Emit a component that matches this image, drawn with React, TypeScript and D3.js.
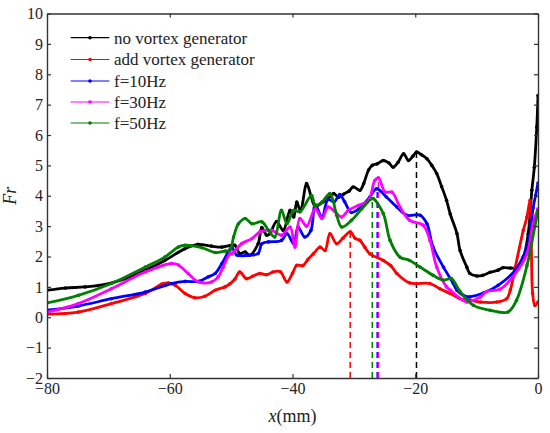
import React, { useRef, useEffect } from "react";
import * as d3 from "d3";

// Fr along x (mm)
const blackX = [-80, -77, -73.8, -70.5, -67.3, -64, -60.8, -57.5, -55.4, -53.2, -51.5, -50.2, -49.4, -48.6, -47.7, -47, -45.6, -45, -44.2, -43.7, -42.6, -41.5, -40.4, -39.8, -39.3, -38.7, -37.7, -37, -36.3, -35, -34.2, -33.3, -32.5, -31.7, -30.8, -30.1, -29, -28.4, -27.6, -27, -26.2, -25.2, -24.3, -23.6, -22.8, -21.9, -21.1, -20.4, -19.8, -19, -18.1, -17.3, -16.5, -15.7, -14.9, -14.3, -13.2, -12.7, -11.6, -11.1, -10, -9, -7.8, -6.5, -5.7, -4.5, -3.7, -2.4, -1.6, -1, -0.6, -0.2, 0];
const blackY = [0.89, 0.96, 1.0, 1.08, 1.27, 1.55, 1.87, 2.26, 2.4, 2.34, 2.31, 2.36, 2.37, 2.1, 2.15, 2.04, 2.42, 2.95, 2.7, 2.75, 3.15, 2.86, 3.52, 3.3, 3.79, 3.5, 4.4, 4.0, 3.65, 3.8, 3.9, 4.07, 3.95, 4.05, 4.15, 4.29, 4.18, 4.4, 4.85, 5.0, 5.05, 5.16, 5.08, 4.94, 5.1, 5.38, 5.16, 5.3, 5.44, 5.35, 5.22, 5.0, 4.73, 4.3, 3.85, 3.4, 2.75, 2.2, 1.65, 1.44, 1.36, 1.38, 1.48, 1.55, 1.63, 1.62, 1.62, 1.98, 2.75, 4.18, 4.94, 6.26, 7.3];

const redX = [-80, -74.9, -69.5, -64, -61.3, -60.2, -59.1, -57.5, -55.9, -54.3, -52.6, -51, -50.2, -49.4, -48.6, -47.5, -46.5, -45.3, -44.2, -43.2, -42, -40.9, -40, -39.3, -38.3, -37.5, -36.6, -35.5, -34.7, -33.9, -32.8, -31.8, -30.6, -29.8, -29, -28.2, -27.4, -25.2, -24, -23, -20.9, -17.6, -16, -14.3, -12.7, -11.1, -9.4, -6.7, -5.1, -4.5, -3.7, -2.4, -1.8, -1.3, -1.1, -0.87, -0.5, 0];
const redY = [0.1, 0.17, 0.45, 0.78, 1.09, 1.13, 1.05, 0.78, 0.64, 0.69, 0.89, 1.0, 1.1, 1.25, 1.49, 1.27, 1.35, 1.44, 1.4, 1.49, 1.5, 1.16, 1.45, 1.71, 1.7, 1.9, 2.09, 2.31, 2.2, 2.75, 2.42, 2.6, 2.81, 2.6, 2.53, 2.3, 2.09, 1.87, 1.7, 1.44, 1.13, 1.11, 0.94, 0.78, 0.61, 0.56, 0.5, 0.5, 0.61, 0.9, 1.65, 2.86, 3.3, 3.85, 2.5, 0.78, 0.39, 0.5];

const blueX = [-80, -74.9, -69.5, -64, -59.7, -57.5, -55.3, -53.7, -52.6, -51.5, -50.6, -49.9, -49.1, -47.2, -45.6, -45, -43.9, -41.8, -40.9, -39.8, -39.1, -38, -37, -36.3, -35.2, -34.2, -33.2, -32.3, -31.5, -30.4, -29, -27.4, -26.3, -24.7, -23, -21.4, -19.2, -18.1, -17.1, -15.4, -13.8, -13.2, -11.6, -11.1, -8.9, -6.5, -3.5, -1.8, -1.3, -0.8, -0.4, 0];
const blueY = [0.23, 0.37, 0.61, 0.83, 1.11, 1.18, 1.18, 1.33, 1.44, 1.77, 2.1, 2.3, 2.05, 2.04, 2.1, 2.42, 2.48, 2.53, 2.75, 2.42, 2.97, 2.64, 2.86, 3.7, 3.3, 3.88, 3.8, 4.04, 3.8, 3.45, 3.6, 3.96, 4.23, 3.96, 3.63, 3.36, 3.36, 3.08, 2.31, 1.65, 1.11, 0.89, 0.67, 0.67, 0.8, 1.05, 1.6, 2.3, 2.7, 3.6, 4.0, 4.42];

const magentaX = [-80, -74.9, -69.5, -64, -59.7, -58.6, -57, -55.3, -53.2, -52.1, -51.3, -50.2, -49.9, -48.3, -46.6, -45.3, -43.4, -41.8, -40.4, -39.6, -38.8, -37.7, -36.3, -35.2, -34.2, -33.2, -32, -30.9, -29.3, -27.6, -26.6, -26, -24.9, -23.8, -22.5, -20.9, -18.7, -17.6, -16.5, -14.9, -14.3, -12.2, -11.6, -9.4, -8.4, -6.2, -4, -1.8, -0.8, 0];
const magentaY = [0.17, 0.45, 0.94, 1.49, 1.77, 1.72, 1.44, 1.16, 1.16, 1.33, 1.65, 2.09, 2.09, 2.42, 2.59, 2.81, 2.86, 2.7, 2.97, 2.31, 3.25, 3.0, 3.57, 3.25, 3.63, 3.5, 3.3, 3.52, 3.68, 3.85, 4.5, 4.59, 4.12, 4.12, 3.63, 3.19, 3.03, 2.53, 1.65, 1.0, 0.89, 0.56, 0.5, 0.67, 0.85, 0.92, 1.35, 2.09, 3.08, 3.57];

const greenX = [-80, -74.9, -69.5, -64, -60.8, -58.6, -57.5, -54.8, -52.6, -51, -50.2, -49.6, -48.8, -47.7, -46.6, -45, -43.9, -42.9, -41.8, -40.9, -39.8, -38.8, -36.9, -36.3, -35.2, -33.9, -32.8, -32, -30.4, -28.7, -27.1, -26.8, -25.2, -24.1, -22.5, -20.9, -19.2, -17.1, -15.4, -14.1, -12.7, -10.5, -7.8, -4.9, -3.5, -1.8, -0.5, 0];
const greenY = [0.47, 0.72, 1.11, 1.65, 1.98, 2.31, 2.37, 2.29, 2.13, 2.18, 2.2, 2.64, 3.08, 3.25, 3.08, 3.14, 2.86, 2.64, 3.52, 3.08, 3.52, 3.47, 4.01, 3.68, 3.79, 4.07, 3.36, 2.97, 3.19, 3.57, 3.9, 3.9, 3.41, 2.53, 1.98, 1.87, 1.65, 1.38, 1.22, 1.27, 0.85, 0.39, 0.23, 0.17, 0.56, 1.7, 3.0, 3.52];

// peak markers (x, Fr at peak)
const peakX = [-30.6, -27.0, -26.2, -26.0, -19.8];
const peakY = [2.81, 3.9, 4.23, 4.59, 5.44];

const seriesNames = ["no vortex generator", "add vortex generator", "f=10Hz", "f=30Hz", "f=50Hz"];
const seriesColors = ["#000000", "#ff0000", "#0000ff", "#ff00ff", "#008000"];
const peakColors = ["#ff0000", "#008000", "#0000ff", "#ff00ff", "#000000"];

const xTicks = [-80, -60, -40, -20, 0];
const yTicks = [-2, -1, 0, 1, 2, 3, 4, 5, 6, 7, 8, 9, 10];

const App: React.FC = () => {
  const svgRef = useRef<SVGSVGElement | null>(null);
  const width = 550;
  const height = 433;

  useEffect(() => {
    if (!svgRef.current) return;
    const svg = d3.select(svgRef.current);
    svg.selectAll("*").remove();

    const margin = { top: 13.5, right: 12, bottom: 55, left: 47 };
    const iw = width - margin.left - margin.right;
    const ih = height - margin.top - margin.bottom;
    const font = "Liberation Serif";

    const x = d3.scaleLinear().domain([-80, 0]).range([0, iw]);
    const y = d3.scaleLinear().domain([-2, 10]).range([ih, 0]);

    const g = svg.append("g").attr("transform", `translate(${margin.left},${margin.top})`);

    g.append("defs")
      .append("clipPath")
      .attr("id", "plotclip")
      .append("rect")
      .attr("width", iw)
      .attr("height", ih);

    // dashed peak lines
    peakX.forEach((px, i) => {
      g.append("line")
        .attr("x1", x(px))
        .attr("x2", x(px))
        .attr("y1", y(-2))
        .attr("y2", y(peakY[i]))
        .attr("stroke", peakColors[i])
        .attr("stroke-width", 1.5)
        .attr("stroke-dasharray", "6,4");
    });

    const allX = [blackX, redX, blueX, magentaX, greenX];
    const allY = [blackY, redY, blueY, magentaY, greenY];

    const line = d3
      .line<[number, number]>()
      .x((d) => x(d[0]))
      .y((d) => y(d[1]))
      .curve(d3.curveCatmullRom.alpha(0.5));

    const plot = g.append("g").attr("clip-path", "url(#plotclip)");
    allX.forEach((xs, i) => {
      const pts = xs.map((v, j) => [v, allY[i][j]] as [number, number]);
      plot
        .append("path")
        .datum(pts)
        .attr("d", line)
        .attr("fill", "none")
        .attr("stroke", seriesColors[i])
        .attr("stroke-width", 2.8)
        .attr("stroke-linejoin", "round");
      plot
        .selectAll(null)
        .data(pts)
        .join("circle")
        .attr("cx", (d) => x(d[0]))
        .attr("cy", (d) => y(d[1]))
        .attr("r", 1.8)
        .attr("fill", seriesColors[i]);
    });

    // axes
    const axisColor = "#333";
    const bottom = g
      .append("g")
      .attr("transform", `translate(0,${ih})`)
      .call(d3.axisBottom(x).tickValues(xTicks).tickSizeInner(-4).tickSizeOuter(0).tickPadding(5));
    const top = g.append("g").call(d3.axisTop(x).tickValues(xTicks).tickSizeInner(-4).tickSizeOuter(0).tickFormat(() => ""));
    const left = g.append("g").call(d3.axisLeft(y).tickValues(yTicks).tickSizeInner(-4).tickSizeOuter(0).tickPadding(4));
    const right = g
      .append("g")
      .attr("transform", `translate(${iw},0)`)
      .call(d3.axisRight(y).tickValues(yTicks).tickSizeInner(-4).tickSizeOuter(0).tickFormat(() => ""));

    [bottom, top, left, right].forEach((a) => {
      a.attr("font-family", font).attr("font-size", 16);
      a.select(".domain").attr("stroke", axisColor).attr("stroke-width", 1.4);
      a.selectAll(".tick line").attr("stroke", axisColor).attr("stroke-width", 1.2);
      a.selectAll(".tick text").attr("fill", "#222");
    });

    // axis titles
    const xl = svg
      .append("text")
      .attr("x", margin.left + iw / 2)
      .attr("y", 422)
      .attr("text-anchor", "middle")
      .attr("font-family", font)
      .attr("font-size", 18)
      .attr("fill", "#222");
    xl.append("tspan").attr("font-style", "italic").text("x");
    xl.append("tspan").text("(mm)");

    svg
      .append("text")
      .attr("transform", `translate(16,${margin.top + y(4)}) rotate(-90)`)
      .attr("text-anchor", "middle")
      .attr("font-family", font)
      .attr("font-size", 18)
      .attr("font-style", "italic")
      .attr("fill", "#222")
      .text("Fr");

    // legend
    const leg = svg.append("g");
    const rowY = [37.7, 59.5, 81, 102, 123];
    seriesNames.forEach((name, i) => {
      leg.append("line")
        .attr("x1", 70.7)
        .attr("x2", 109.3)
        .attr("y1", rowY[i])
        .attr("y2", rowY[i])
        .attr("stroke", seriesColors[i])
        .attr("stroke-width", 1.2);
      leg.append("circle")
        .attr("cx", 90)
        .attr("cy", rowY[i])
        .attr("r", 1.8)
        .attr("fill", seriesColors[i]);
      leg.append("text")
        .attr("x", 114)
        .attr("y", rowY[i])
        .attr("dy", "0.35em")
        .attr("font-family", font)
        .attr("font-size", 17)
        .attr("fill", "#222")
        .text(name);
    });
  }, []);

  return (
    <div style={{ position: "absolute", left: 0, top: 0 }}>
      <svg ref={svgRef} width={width} height={height} style={{ display: "block", background: "#fff" }}></svg>
    </div>
  );
};

export default App;
